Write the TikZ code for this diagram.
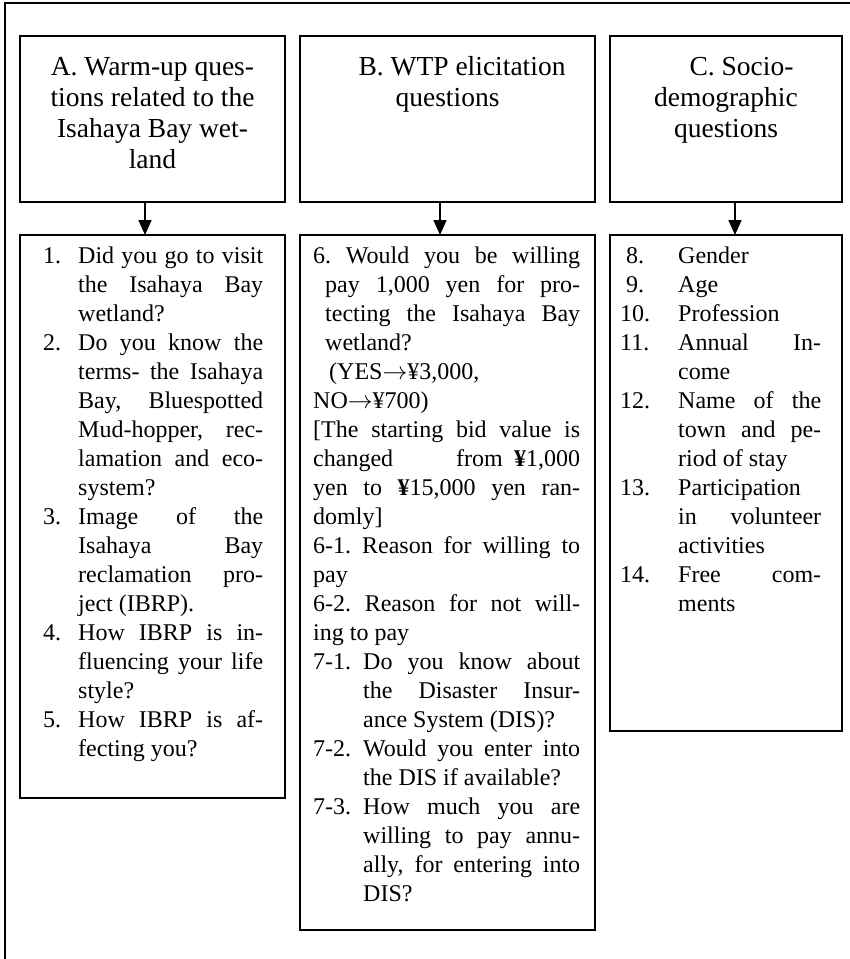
\documentclass[tikz,border=0pt]{standalone}
\usepackage{fontspec}
\setmainfont{Liberation Serif}
\usetikzlibrary{arrows.meta}
\frenchspacing
\newlength\BW
\newlength\BI
\newcommand\NJ[3][\BI]{\strut\makebox[#1][l]{#2}\makebox[\dimexpr\BW-#1\relax][s]{#3}}
\newcommand\NL[3][\BI]{\strut\makebox[#1][l]{#2}#3}
\newcommand\HJ[2][\BI]{\strut\hspace*{#1}\makebox[\dimexpr\BW-#1\relax][s]{#2}}
\newcommand\HL[2][\BI]{\strut\hspace*{#1}#2}
\newcommand\FJ[1]{\strut\makebox[\BW][s]{#1}}
\newcommand\FL[1]{\strut#1}
\newcommand\ra{\ensuremath{\rightarrow}}
\begin{document}
\begin{tikzpicture}[x=1pt,y=-1pt,
  box/.style={draw, line width=1.5pt, inner sep=0pt, outer sep=0pt},
  headtxt/.style={anchor=north, align=center, inner sep=0pt, font=\fontsize{27.5}{31}\selectfont\frenchspacing},
  listtxt/.style={anchor=north west, align=left, inner sep=0pt, font=\fontsize{24}{29}\selectfont\frenchspacing},
  arr/.style={line width=1.5pt, -{Triangle[length=15pt,width=13pt]}}]
\fill[white] (0,0) rectangle (850,959);
\useasboundingbox (0,0) rectangle (850,959);
% outer frame
\draw[line width=2.5pt] (5,959) -- (5,3) -- (850,3);
% top boxes
\node[box, minimum width=265pt, minimum height=166pt] (tA) at (152.5,119) {};
\node[box, minimum width=295pt, minimum height=166pt] (tB) at (447.5,119) {};
\node[box, minimum width=232pt, minimum height=166pt] (tC) at (726,119) {};
% lower boxes
\node[box, minimum width=265pt, minimum height=563pt] (lA) at (152.5,516.5) {};
\node[box, minimum width=295pt, minimum height=695pt] (lB) at (447.5,582.5) {};
\node[box, minimum width=232pt, minimum height=496pt] (lC) at (726,483) {};
% arrows
\draw[arr] ([xshift=-7.5pt]tA.south) -- ([xshift=-7.5pt]lA.north);
\draw[arr] ([xshift=-7.5pt]tB.south) -- ([xshift=-7.5pt]lB.north);
\draw[arr] ([xshift=9pt]tC.south) -- ([xshift=9pt]lC.north);
% header texts
\node[headtxt] (hA) at (152.5,54) {\strut A. Warm-up ques-\\\strut tions related to the\\\strut Isahaya Bay wet-\\\strut land};
\node[headtxt] (hB) at (447.5,54) {\strut\hspace*{29pt}B. WTP elicitation\\\strut questions};
\node[headtxt] (hC) at (726,54) {\strut\hspace*{31pt}C. Socio-\\\strut demographic\\\strut questions};
% list A
\node[listtxt, execute at begin node={\setlength\BW{220pt}\setlength\BI{35pt}}] (qA) at (43,243) {%
\NJ{1.}{Did you go to visit}\\
\HJ{the Isahaya Bay}\\
\HL{wetland?}\\
\NJ{2.}{Do you know the}\\
\HJ{terms- the Isahaya}\\
\HJ{Bay, Bluespotted}\\
\HJ{Mud-hopper, rec-}\\
\HJ{lamation and eco-}\\
\HL{system?}\\
\NJ{3.}{Image of the}\\
\HJ{Isahaya Bay}\\
\HJ{reclamation pro-}\\
\HL{ject (IBRP).}\\
\NJ{4.}{How IBRP is in-}\\
\HJ{fluencing your life}\\
\HL{style?}\\
\NJ{5.}{How IBRP is af-}\\
\HL{fecting you?}};
% list B
\node[listtxt, execute at begin node={\setlength\BW{267pt}\setlength\BI{50pt}}] (qB) at (313,243) {%
\FJ{6. Would you be willing}\\
\HJ[12pt]{pay 1,000 yen for pro-}\\
\HJ[12pt]{tecting the Isahaya Bay}\\
\HL[12pt]{wetland?}\\
\HL[16pt]{(YES\ra¥3,000,}\\
\FL{NO\ra¥700)}\\
\FJ{[The starting bid value is}\\
\FJ{changed \hspace{40pt} from {\bfseries ¥}1,000}\\
\FJ{yen to {\bfseries ¥}15,000 yen ran-}\\
\FL{domly]}\\
\FJ{6-1. Reason for willing to}\\
\FL{pay}\\
\FJ{6-2. Reason for not will-}\\
\FL{ing to pay}\\
\NJ{7-1.}{Do you know about}\\
\HJ{the Disaster Insur-}\\
\HL{ance System (DIS)?}\\
\NJ{7-2.}{Would you enter into}\\
\HL{the DIS if available?}\\
\NJ{7-3.}{How much you are}\\
\HJ{willing to pay annu-}\\
\HJ{ally, for entering into}\\
\HL{DIS?}};
% list C
\node[listtxt, execute at begin node={\setlength\BW{195pt}\setlength\BI{52pt}}] (qC) at (626,243) {%
\NL{8.}{Gender}\\
\NL{9.}{Age}\\
\NL{\hspace*{-6pt}10.}{Profession}\\
\NJ{\hspace*{-6pt}11.}{Annual In-}\\
\HL{come}\\
\NJ{\hspace*{-6pt}12.}{Name of the}\\
\HJ{town and pe-}\\
\HL{riod of stay}\\
\NL{\hspace*{-6pt}13.}{Participation}\\
\HJ{in volunteer}\\
\HL{activities}\\
\NJ{\hspace*{-6pt}14.}{Free com-}\\
\HL{ments}};
\end{tikzpicture}
\end{document}
